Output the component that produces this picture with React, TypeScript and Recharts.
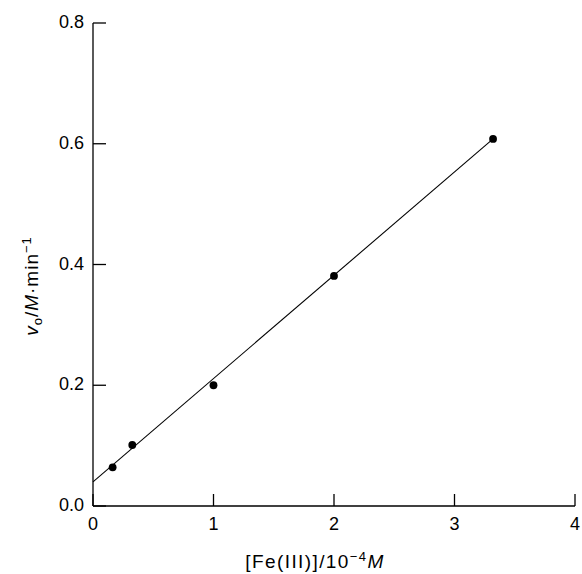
import React from 'react';
import { ScatterChart, Scatter, XAxis, YAxis, ReferenceLine } from 'recharts';

const ironConc = [0.163, 0.326, 1.0, 2.0, 3.32];
const rate = [0.064, 0.101, 0.2, 0.381, 0.608];
const fitStart = { x: 0, y: 0.04 };
const fitEnd = { x: 3.32, y: 0.608 };
const xTicks = [0, 1, 2, 3, 4];
const yTicks = [0, 0.2, 0.4, 0.6, 0.8];

const points = ironConc.map((x, i) => ({ x, y: rate[i] }));

const FONT = '"Liberation Sans", Arial, Helvetica, sans-serif';

const XTick = (props: any) => {
  const { x, y, payload } = props;
  return (
    <g>
      <line x1={x} y1={y} x2={x} y2={y - 12} stroke="#000" strokeWidth={1.3} />
      <text x={x} y={y + 24} textAnchor="middle" fontFamily={FONT} fontSize={18} fill="#000">
        {String(payload.value)}
      </text>
    </g>
  );
};

const YTick = (props: any) => {
  const { x, y, payload } = props;
  return (
    <g>
      <line x1={x} y1={y} x2={x + 13} y2={y} stroke="#000" strokeWidth={1.3} />
      <text x={x - 9} y={y + 5} textAnchor="end" fontFamily={FONT} fontSize={18} fill="#000">
        {Number(payload.value).toFixed(1)}
      </text>
    </g>
  );
};

const XLabel = () => (
  <text x={315} y={568} textAnchor="middle" fontFamily={FONT} fontSize={19} letterSpacing={1.4} fill="#000">
    <tspan>[Fe(III)]/10</tspan>
    <tspan dy={-7} fontSize={13}>−4</tspan>
    <tspan dy={7} fontStyle="italic">M</tspan>
  </text>
);

const YLabel = () => (
  <text
    x={0}
    y={0}
    transform="translate(38 286) rotate(-90)"
    textAnchor="middle"
    fontFamily={FONT}
    fontSize={19}
    letterSpacing={1}
    fill="#000"
  >
    <tspan fontStyle="italic">v</tspan>
    <tspan dy={4} fontSize={13}>o</tspan>
    <tspan dy={-4}>/</tspan>
    <tspan fontStyle="italic">M</tspan>
    <tspan>·min</tspan>
    <tspan dy={-7} fontSize={13}>−1</tspan>
  </text>
);

export default function App() {
  return (
    <div style={{ position: 'absolute', left: 0, top: 0, background: '#fff' }}>
      <ScatterChart width={582} height={574} margin={{ top: 23, right: 7, bottom: 0, left: 0 }}>
        <XAxis
          type="number"
          dataKey="x"
          domain={[0, 4]}
          ticks={xTicks}
          height={68}
          tickSize={0}
          tickMargin={0}
          tickLine={false}
          tick={<XTick />}
          axisLine={{ stroke: '#000', strokeWidth: 1.3 }}
          label={{ content: () => <XLabel /> }}
        />
        <YAxis
          type="number"
          dataKey="y"
          domain={[0, 0.8]}
          ticks={yTicks}
          width={93}
          tickSize={0}
          tickMargin={0}
          tickLine={false}
          tick={<YTick />}
          axisLine={{ stroke: '#000', strokeWidth: 1.3 }}
          label={{ content: () => <YLabel /> }}
        />
        <ReferenceLine
          segment={[fitStart, fitEnd]}
          stroke="#000"
          strokeWidth={1.1}
        />
        <Scatter data={points} fill="#000" isAnimationActive={false} shape={(p: any) => <circle cx={p.cx} cy={p.cy} r={3.9} fill="#000" />} />
      </ScatterChart>
    </div>
  );
}
